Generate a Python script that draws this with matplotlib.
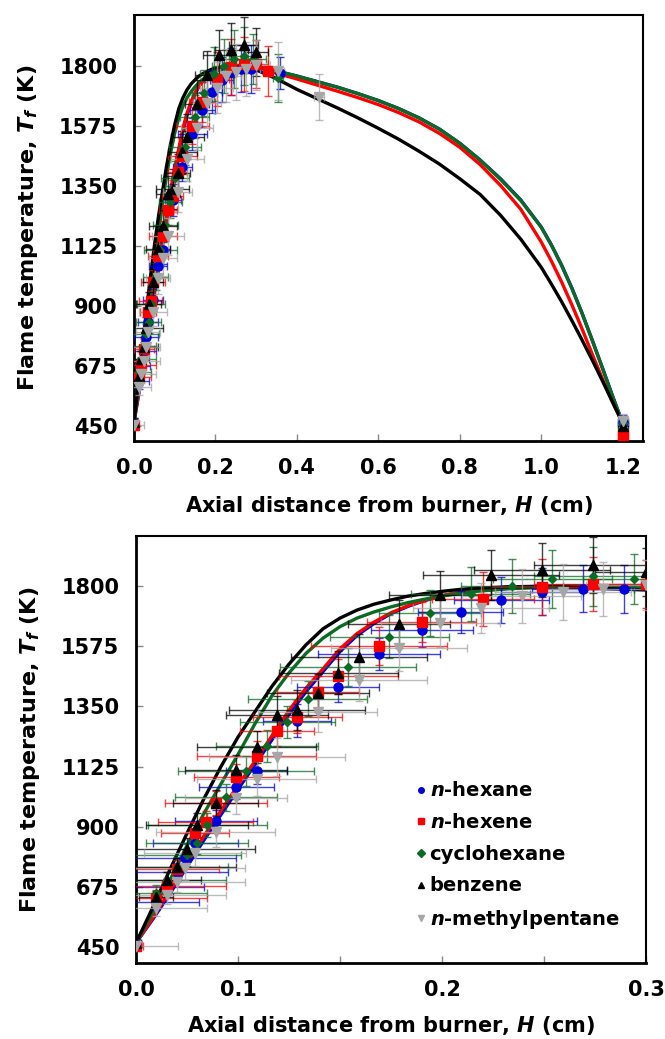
import numpy as np
import matplotlib
matplotlib.use("Agg")
import matplotlib.pyplot as plt
from matplotlib.lines import Line2D

plt.rcParams['font.family'] = ['DejaVu Sans']
plt.rcParams['font.weight'] = 'bold'
plt.rcParams['mathtext.fontset'] = 'custom'
plt.rcParams['mathtext.it'] = 'DejaVu Sans:italic:bold'
plt.rcParams['mathtext.rm'] = 'DejaVu Sans:bold'

# ---- measured points (H in cm, T in K) ----
hex_x = [0, 0.012, 0.018, 0.024, 0.029, 0.035, 0.047, 0.059, 0.071, 0.095, 0.119, 0.143, 0.168, 0.191, 0.215, 0.239, 0.263, 0.287, 0.358, 1.2]
hex_T = [460, 619, 675, 731, 783, 839, 922, 1049, 1108, 1297, 1422, 1546, 1636, 1703, 1748, 1778, 1789, 1789, 1774, 465]
hex_xe = [0.003, 0.025, 0.022, 0.03, 0.03, 0.025, 0.024, 0.022, 0.018, 0.02, 0.024, 0.036, 0.03, 0.025, 0.028, 0.024, 0.03, 0.026, 0.01, 0.012]
hex_Te = [20, 30, 30, 35, 35, 40, 40, 45, 50, 60, 55, 60, 65, 80, 85, 88, 88, 90, 60, 25]

hexe_x = [0, 0.012, 0.018, 0.024, 0.035, 0.041, 0.047, 0.059, 0.071, 0.083, 0.095, 0.107, 0.119, 0.143, 0.168, 0.204, 0.239, 0.269, 0.300, 0.330, 1.2]
hexe_T = [455, 632, 679, 740, 877, 918, 989, 1086, 1164, 1258, 1312, 1402, 1462, 1576, 1665, 1751, 1796, 1807, 1807, 1781, 415]
hexe_xe = [0.004, 0.03, 0.035, 0.025, 0.02, 0.028, 0.03, 0.025, 0.035, 0.022, 0.026, 0.024, 0.035, 0.04, 0.032, 0.03, 0.03, 0.035, 0.03, 0.012, 0.012]
hexe_Te = [15, 30, 30, 35, 35, 40, 45, 50, 55, 55, 60, 60, 65, 70, 75, 100, 105, 100, 90, 95, 15]

cyc_x = [0, 0.012, 0.018, 0.024, 0.030, 0.036, 0.042, 0.053, 0.065, 0.077, 0.089, 0.101, 0.125, 0.149, 0.173, 0.197, 0.221, 0.245, 0.269, 0.293, 0.354, 1.2]
cyc_T = [460, 652, 701, 750, 794, 839, 907, 1010, 1108, 1202, 1290, 1378, 1497, 1610, 1699, 1770, 1800, 1826, 1837, 1826, 1755, 460]
cyc_xe = [0.003, 0.03, 0.035, 0.03, 0.032, 0.03, 0.035, 0.03, 0.04, 0.03, 0.028, 0.035, 0.04, 0.035, 0.03, 0.035, 0.03, 0.035, 0.035, 0.03, 0.012, 0.012]
cyc_Te = [15, 30, 30, 35, 40, 40, 45, 50, 55, 60, 60, 65, 70, 80, 85, 100, 100, 110, 110, 95, 90, 20]

benz_x = [0, 0.012, 0.018, 0.024, 0.030, 0.036, 0.047, 0.059, 0.071, 0.083, 0.095, 0.107, 0.119, 0.131, 0.155, 0.179, 0.209, 0.239, 0.269, 0.300, 1.2]
benz_T = [465, 636, 701, 748, 818, 907, 989, 1112, 1198, 1318, 1338, 1400, 1476, 1535, 1658, 1766, 1841, 1860, 1878, 1852, 450]
benz_xe = [0.003, 0.01, 0.02, 0.035, 0.04, 0.03, 0.025, 0.03, 0.035, 0.03, 0.04, 0.03, 0.035, 0.04, 0.03, 0.03, 0.04, 0.04, 0.035, 0.03, 0.012]
benz_Te = [15, 25, 30, 35, 40, 45, 50, 55, 60, 70, 75, 70, 80, 85, 90, 90, 94, 100, 105, 90, 20]

mp_x = [0, 0.012, 0.018, 0.024, 0.029, 0.035, 0.047, 0.059, 0.071, 0.083, 0.107, 0.131, 0.155, 0.179, 0.203, 0.227, 0.251, 0.275, 0.300, 0.354, 0.455, 1.2]
mp_T = [455, 596, 645, 694, 746, 802, 879, 1006, 1079, 1161, 1329, 1450, 1568, 1662, 1718, 1763, 1778, 1789, 1804, 1781, 1684, 470]
mp_xe = [0.025, 0.03, 0.035, 0.04, 0.035, 0.03, 0.035, 0.03, 0.035, 0.04, 0.035, 0.04, 0.04, 0.035, 0.04, 0.035, 0.04, 0.035, 0.035, 0.015, 0.012, 0.012]
mp_Te = [20, 30, 35, 40, 45, 50, 55, 60, 65, 70, 75, 80, 85, 90, 95, 100, 105, 100, 95, 110, 86, 25]

# ---- model curves ----
curve_x = [0, 0.01, 0.02, 0.03, 0.04, 0.05, 0.06, 0.07, 0.08, 0.09, 0.10, 0.11, 0.12, 0.13, 0.14, 0.15,
           0.16, 0.17, 0.18, 0.19, 0.20, 0.22, 0.25, 0.30, 0.35, 0.40, 0.45, 0.50, 0.55, 0.60, 0.65,
           0.70, 0.75, 0.80, 0.85, 0.90, 0.95, 1.00, 1.025, 1.05, 1.075, 1.10, 1.125, 1.15, 1.175, 1.20]
curve_hex = [465, 555, 650, 750, 850, 945, 1040, 1132, 1225, 1320, 1405, 1480, 1555, 1615, 1660, 1697,
             1724, 1746, 1763, 1776, 1786, 1797, 1801, 1799, 1781, 1762, 1741, 1720, 1696, 1670, 1640,
             1605, 1563, 1510, 1447, 1377, 1297, 1196, 1129, 1053, 968, 874, 773, 669, 563, 460]
curve_hexe = [465, 560, 660, 765, 865, 960, 1055, 1145, 1240, 1335, 1418, 1490, 1565, 1622, 1665, 1700,
              1726, 1747, 1764, 1776, 1786, 1796, 1800, 1797, 1773, 1751, 1728, 1705, 1681, 1655, 1625,
              1590, 1547, 1495, 1430, 1352, 1262, 1140, 1068, 990, 905, 815, 720, 628, 540, 460]
curve_cyc = [465, 580, 700, 830, 950, 1060, 1170, 1285, 1390, 1475, 1548, 1605, 1648, 1680, 1703, 1722,
             1738, 1751, 1762, 1772, 1780, 1790, 1797, 1798, 1781, 1762, 1741, 1720, 1696, 1670, 1640,
             1605, 1563, 1510, 1447, 1375, 1295, 1195, 1128, 1052, 967, 873, 772, 668, 562, 460]
curve_benz = [465, 600, 740, 875, 1005, 1125, 1235, 1330, 1425, 1508, 1580, 1640, 1680, 1710, 1732, 1748,
              1762, 1772, 1780, 1787, 1792, 1797, 1797, 1785, 1752, 1712, 1677, 1642, 1605, 1566, 1525,
              1480, 1432, 1377, 1318, 1240, 1150, 1045, 982, 916, 846, 773, 698, 620, 540, 460]

names = [r'$\it{n}$-hexane', r'$\it{n}$-hexene', 'cyclohexane', 'benzene', r'$\it{n}$-methylpentane']
colors = ['#0000dd', '#ff0000', '#0b6b22', '#000000', '#a6a6a6']
markers = ['o', 's', 'D', '^', 'v']
msizes = [6.5, 7, 4.5, 7, 7]

series = [(hex_x, hex_T, hex_xe, hex_Te), (hexe_x, hexe_T, hexe_xe, hexe_Te),
          (cyc_x, cyc_T, cyc_xe, cyc_Te), (benz_x, benz_T, benz_xe, benz_Te),
          (mp_x, mp_T, mp_xe, mp_Te)]
curves = [(curve_hex, colors[0]), (curve_hexe, colors[1]), (curve_cyc, colors[2]), (curve_benz, colors[3])]

fig = plt.figure(figsize=(6.65, 10.39), dpi=100)
ax1 = fig.add_axes([0.2015, 0.5756, 0.7655, 0.41])
ax2 = fig.add_axes([0.2045, 0.0731, 0.7669, 0.411])


def draw(ax, xpad):
    for cy, c in curves:
        ax.plot(curve_x, cy, color=c, lw=2.4, zorder=3, solid_joinstyle='round')
    for (x, T, xe, Te), c, m, ms in zip(series, colors, markers, msizes):
        ax.errorbar(x, T, xerr=xe, yerr=Te, fmt=m, color=c, ms=ms, mec=c,
                    ecolor=matplotlib.colors.to_rgba(c, 0.75), elinewidth=1.0,
                    capsize=3, capthick=1.0, zorder=4)
    ax.set_yticks([450, 675, 900, 1125, 1350, 1575, 1800])
    ax.tick_params(direction='in', length=5, width=1, color='#888888',
                   labelsize=15, pad=12)
    ax.tick_params(axis='x', top=False)
    ax.tick_params(axis='y', right=False)
    for s in ax.spines.values():
        s.set_linewidth(1.5)
    ax.spines['left'].set_linewidth(2)
    ax.spines['bottom'].set_linewidth(2)
    for lab in ax.get_xticklabels() + ax.get_yticklabels():
        lab.set_fontweight('bold')
    ax.set_xlabel(r'Axial distance from burner, $\it{H}$ (cm)', fontsize=15,
                  fontweight='bold', labelpad=xpad)
    ax.set_ylabel(r'Flame temperature, $\it{T_f}$ (K)', fontsize=16,
                  fontweight='bold', labelpad=14)


draw(ax1, 12)
ax1.set_xlim(0, 1.25)
ax1.set_ylim(394, 1991)
ax1.set_xticks([0, 0.2, 0.4, 0.6, 0.8, 1.0, 1.2])
ax1.set_xticklabels(['0.0', '0.2', '0.4', '0.6', '0.8', '1.0', '1.2'])

draw(ax2, 10)
ax2.set_xlim(0, 0.3)
ax2.set_ylim(390, 1987)
ax2.set_xticks([0, 0.06, 0.12, 0.18, 0.24, 0.30])
ax2.set_xticklabels(['0.0', '0.1', '', '0.2', '', '0.3'])

handles = [Line2D([], [], ls='none', marker=m, color=c, ms=4) for c, m in zip(colors, markers)]
ax2.legend(handles, names, loc='upper left', bbox_to_anchor=(0.53, 0.448), frameon=False,
           prop={'size': 14, 'weight': 'bold'}, handlelength=0.5, handletextpad=0.2,
           labelspacing=0.65, borderpad=0)

fig.savefig('out.png', dpi=100)
